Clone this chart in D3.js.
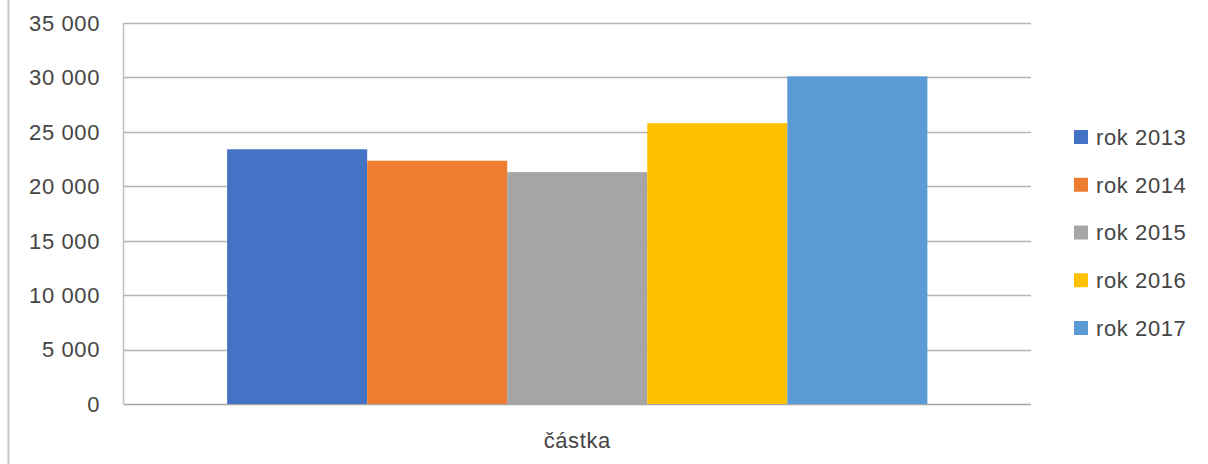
<!DOCTYPE html>
<html><head><meta charset="utf-8">
<script src="https://cdn.jsdelivr.net/npm/d3@7"></script>
<style>
html,body{margin:0;padding:0;background:#fff;}
text{font-family:"Liberation Sans",Arial,sans-serif;fill:#454545;}
</style></head>
<body><svg id="c" width="1208" height="464"></svg>
<script>
const categories = ["částka"];
const seriesNames = ["rok 2013","rok 2014","rok 2015","rok 2016","rok 2017"];
const seriesValues = [23400, 22350, 21300, 25800, 30100];
const seriesColors = ["#4472C4","#ED7D31","#A5A5A5","#FFC000","#5B9BD5"];
const yTicks = [0,5000,10000,15000,20000,25000,30000,35000];
const yTickLabels = ["0","5 000","10 000","15 000","20 000","25 000","30 000","35 000"];

const svg = d3.select("#c");
const L = 123.5, R = 1031, T = 23, B = 404;

// chart border (left edge visible)
svg.append("line").attr("x1",8.5).attr("x2",8.5).attr("y1",0).attr("y2",464)
  .attr("stroke","#c8c8c8").attr("stroke-width",2);

const y = d3.scaleLinear().domain([0,35000]).range([B,T]);
const x0 = d3.scaleBand().domain(categories).range([L,R]).paddingInner(0).paddingOuter(0.148);
const x1 = d3.scaleBand().domain(seriesNames).range([0,x0.bandwidth()]).padding(0);

// gridlines
svg.append("g").selectAll("line").data(yTicks).join("line")
  .attr("x1",L).attr("x2",R)
  .attr("y1",d=>Math.round(y(d))+0.5).attr("y2",d=>Math.round(y(d))+0.5)
  .attr("stroke",d=>d===0?"#a6a6a6":"#b4b4b4").attr("stroke-width",1.5);

// vertical axis line
svg.append("line").attr("x1",L).attr("x2",L).attr("y1",T).attr("y2",B)
  .attr("stroke","#c0c0c0").attr("stroke-width",1.5);

// y tick labels
svg.append("g").selectAll("text").data(yTicks).join("text")
  .attr("x",100).attr("y",d=>y(d)).attr("dy","0.36em")
  .attr("text-anchor","end").attr("font-size",22).attr("letter-spacing","0.6px")
  .text((d,i)=>yTickLabels[i]);

// bars
const g = svg.append("g").selectAll("g").data(categories).join("g")
  .attr("transform",d=>`translate(${x0(d)},0)`);
g.selectAll("rect").data(seriesNames.map((n,i)=>({n,v:seriesValues[i],c:seriesColors[i]})))
  .join("rect")
  .attr("x",d=>x1(d.n)).attr("width",x1.bandwidth())
  .attr("y",d=>y(d.v)).attr("height",d=>B-y(d.v))
  .attr("fill",d=>d.c);

// category label
svg.append("g").selectAll("text").data(categories).join("text")
  .attr("x",d=>x0(d)+x0.bandwidth()/2).attr("y",440).attr("dy","0.36em")
  .attr("text-anchor","middle").attr("font-size",22).attr("letter-spacing","0.6px")
  .text(d=>d);

// legend
const legY = d3.scalePoint().domain(seriesNames).range([137,328]);
const lg = svg.append("g").selectAll("g").data(seriesNames).join("g")
  .attr("transform",d=>`translate(1074,${legY(d)})`);
lg.append("rect").attr("x",0).attr("y",-7).attr("width",14).attr("height",14)
  .attr("fill",(d,i)=>seriesColors[i]);
lg.append("text").attr("x",22).attr("y",0).attr("dy","0.36em")
  .attr("font-size",22).attr("letter-spacing","0.6px").text(d=>d);
</script></body></html>
